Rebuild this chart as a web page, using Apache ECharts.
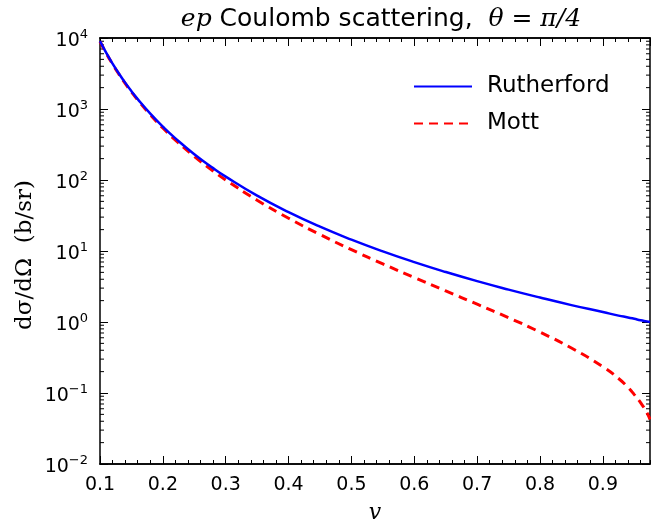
<!DOCTYPE html>
<html>
<head>
<meta charset="utf-8">
<script src="https://cdn.jsdelivr.net/npm/echarts@6/dist/echarts.min.js"></script>
<style>
    html, body { margin: 0; padding: 0; background: #fff; }
    #chart { width: 651px; height: 524px; }
</style>
</head>
<body>
<div id="chart"></div>
<script>
// speed v (units of c)
var speed = [0.1, 0.11, 0.12, 0.13, 0.14, 0.15, 0.16, 0.18, 0.2, 0.22, 0.25, 0.28, 0.3, 0.35, 0.4,
    0.45, 0.5, 0.55, 0.6, 0.65, 0.7, 0.75, 0.8, 0.85, 0.9, 0.925, 0.94, 0.95, 0.96, 0.97, 0.975];

// Rutherford cross section (b/sr)
var rutherford = [9037, 6172, 4358, 3164, 2352, 1785, 1379, 861, 565, 386, 231, 147, 111.6, 60.2, 35.3,
    22.0, 14.46, 9.88, 6.97, 5.06, 3.76, 2.86, 2.21, 1.73, 1.38, 1.23, 1.16, 1.11, 1.06, 1.02, 1.0];

// Mott cross section (b/sr)
var mott = [8934, 6087, 4286, 3103, 2299, 1739, 1339, 829, 539, 364.5, 214.9, 133.9, 100.2, 51.9, 28.96,
    17.06, 10.45, 6.58, 4.23, 2.74, 1.78, 1.15, 0.72, 0.43, 0.235, 0.16, 0.12, 0.095, 0.073, 0.053, 0.0425];

// log axis minor ticks 2..9 x 10^n
var minorTicks = [];
for (var n = -2; n < 4; n++) {
    for (var k = 2; k < 10; k++) {
        minorTicks.push([0.1, k * Math.pow(10, n)]);
    }
}

function pairs(xs, ys) {
    var out = [];
    for (var i = 0; i < xs.length; i++) {
        out.push([xs[i], ys[i]]);
    }
    return out;
}

var tickFont = 'DejaVu Sans';

function xAxisDef(pos, interval, len, showLabel) {
    return {
        type: 'value',
        position: pos,
        min: 0.1,
        max: 0.975,
        interval: interval,
        axisLine: {show: true, onZero: false, lineStyle: {color: '#000', width: 1.5}},
        axisTick: {show: true, inside: true, length: len, lineStyle: {color: '#000', width: 1}},
        axisLabel: {
            show: showLabel,
            showMaxLabel: false,
            margin: 12,
            color: '#000',
            fontFamily: tickFont,
            fontSize: 19,
            formatter: function (v) { return v.toFixed(1); }
        },
        splitLine: {show: false}
    };
}

function yAxisDef(pos, showLabel) {
    return {
        type: 'log',
        logBase: 10,
        position: pos,
        min: 0.01,
        max: 10000,
        splitNumber: 6,
        axisLine: {show: true, lineStyle: {color: '#000', width: 1.5}},
        axisTick: {show: true, inside: true, length: 8, lineStyle: {color: '#000', width: 1}},
        axisLabel: {
            show: showLabel,
            margin: 12,
            color: '#000',
            formatter: function (v) {
                var e = Math.round(Math.log(v) / Math.LN10);
                return '{b|10}{s|' + (e < 0 ? '\u2212' + (-e) : e) + '}';
            },
            rich: {
                b: {fontFamily: tickFont, fontSize: 19, color: '#000', padding: [6, 0, 0, 0]},
                s: {fontFamily: tickFont, fontSize: 13, color: '#000', padding: [0, 0, 6, 0]}
            }
        },
        splitLine: {show: false}
    };
}

var xBottom = xAxisDef('bottom', 0.1, 8, true);
xBottom.name = 'v';
xBottom.nameLocation = 'middle';
xBottom.nameGap = 38;
xBottom.nameTextStyle = {fontFamily: 'DejaVu Serif', fontStyle: 'italic', fontSize: 22, color: '#000'};

var chart = echarts.init(document.getElementById('chart'));

chart.setOption({
    animation: false,
    backgroundColor: '#fff',
    title: {
        text: '{m|ep} Coulomb scattering,  {m|\u03b8 = \u03c0/4}',
        left: 376,
        top: 2,
        textAlign: 'center',
        textStyle: {
            fontFamily: 'DejaVu Sans',
            fontWeight: 'normal',
            fontSize: 25,
            color: '#000',
            rich: {
                m: {fontFamily: 'DejaVu Serif', fontStyle: 'italic', fontSize: 25, color: '#000'}
            }
        }
    },
    grid: {left: 100, right: 1, top: 38, bottom: 60, containLabel: false, outerBoundsMode: 'none'},
    legend: {
        data: ['Rutherford', 'Mott'],
        orient: 'vertical',
        left: 408,
        top: 70,
        itemWidth: 58,
        itemHeight: 14,
        itemGap: 14,
        itemStyle: {opacity: 0},
        textStyle: {fontFamily: 'DejaVu Sans', fontSize: 23, color: '#000', padding: [0, 0, 0, 10]}
    },
    xAxis: [
        xBottom,
        xAxisDef('bottom', 0.02, 4, false),
        xAxisDef('top', 0.1, 8, false),
        xAxisDef('top', 0.02, 4, false)
    ],
    yAxis: [
        yAxisDef('left', true),
        yAxisDef('right', false)
    ],
    graphic: [{
        type: 'text',
        x: 25,
        y: 255,
        rotation: Math.PI / 2,
        style: {
            text: 'd\u03c3/d\u03a9  (b/sr)',
            fontFamily: 'DejaVu Serif',
            fontSize: 23,
            fill: '#000',
            textAlign: 'center',
            textVerticalAlign: 'middle'
        }
    }],
    series: [
        {
            name: 'Rutherford',
            type: 'line',
            xAxisIndex: 0,
            yAxisIndex: 0,
            smooth: true,
            symbol: 'none',
            color: '#0000ff',
            lineStyle: {color: '#0000ff', width: 2.5},
            data: pairs(speed, rutherford),
            z: 3
        },
        {
            name: 'Mott',
            type: 'line',
            xAxisIndex: 0,
            yAxisIndex: 0,
            smooth: true,
            symbol: 'none',
            color: '#ff0000',
            lineStyle: {color: '#ff0000', width: 3, type: [9, 6]},
            data: pairs(speed, mott),
            z: 2
        },
        {
            type: 'custom',
            xAxisIndex: 0,
            yAxisIndex: 0,
            silent: true,
            data: minorTicks,
            renderItem: function (params, api) {
                var p = api.coord([api.value(0), api.value(1)]);
                var cs = params.coordSys;
                var st = {stroke: '#000', lineWidth: 1};
                return {
                    type: 'group',
                    children: [
                        {type: 'line', shape: {x1: cs.x, y1: p[1], x2: cs.x + 4, y2: p[1]}, style: st},
                        {type: 'line', shape: {x1: cs.x + cs.width - 4, y1: p[1], x2: cs.x + cs.width, y2: p[1]}, style: st}
                    ]
                };
            }
        }
    ]
});
</script>
</body>
</html>
